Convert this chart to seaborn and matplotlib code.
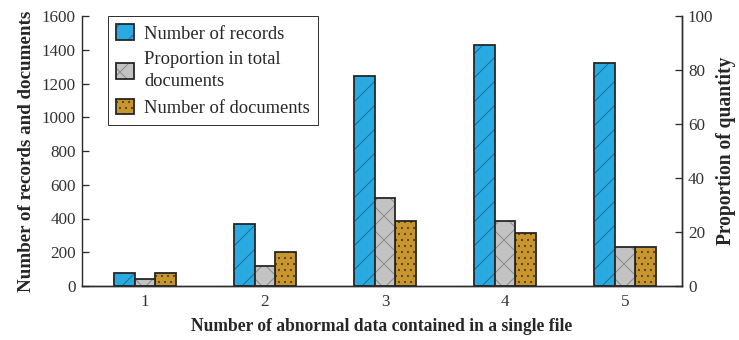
import matplotlib
matplotlib.use("Agg")
import matplotlib.pyplot as plt
import seaborn as sns
import pandas as pd
from matplotlib.patches import Patch, Rectangle
from matplotlib.legend_handler import HandlerTuple

# Categories and series values
groups = ["1", "2", "3", "4", "5"]
records = [80, 370, 1245, 1430, 1320]
proportion = [2.6, 7.5, 32.5, 24.1, 14.3]
documents = [80, 200, 385, 315, 229]
series = ["Number of records", "Proportion in total\ndocuments", "Number of documents"]
left_ticks = [0, 200, 400, 600, 800, 1000, 1200, 1400, 1600]
right_ticks = [0, 20, 40, 60, 80, 100]

sns.set_style("ticks")
plt.rcParams["font.family"] = ["Liberation Serif", "DejaVu Serif"]
plt.rcParams["hatch.linewidth"] = 1.0

fills = {series[0]: "#29ABE2", series[1]: "#C3C3C3", series[2]: "#C8962E"}
hatch_cols = {series[0]: "#1B6E9C", series[1]: "#8C8C8C", series[2]: "#5E4413"}
hatches = {series[0]: "/", series[1]: "x", series[2]: ".."}
outline = "#262626"

DPI = 72
fig = plt.figure(figsize=(739 / DPI, 340 / DPI), dpi=DPI)
ax = fig.add_axes([82 / 739, 1 - 286 / 340, 600 / 739, 270 / 340])
ax2 = ax.twinx()

left_df = pd.DataFrame({
    "group": groups * 2,
    "series": [series[0]] * len(groups) + [series[2]] * len(groups),
    "value": records + documents,
})
right_df = pd.DataFrame({
    "group": groups,
    "series": [series[1]] * len(groups),
    "value": proportion,
})

bar_kw = dict(x="group", y="value", hue="series", hue_order=series, palette=fills,
              width=0.51, saturation=1, legend=False, errorbar=None, dodge=True)
sns.barplot(data=left_df, ax=ax, **bar_kw)
sns.barplot(data=right_df, ax=ax2, **bar_kw)

# Hatch each bar and add a dark outline on top
def style_bars(axis):
    for p in list(axis.patches):
        fc = matplotlib.colors.to_hex(p.get_facecolor())
        name = [k for k, v in fills.items() if v.lower() == fc.lower()]
        if not name:
            continue
        name = name[0]
        p.set_hatch(hatches[name])
        p.set_edgecolor(hatch_cols[name])
        p.set_linewidth(0)
        axis.add_patch(Rectangle(p.get_xy(), p.get_width(), p.get_height(),
                                 fill=False, edgecolor=outline, linewidth=1.8, zorder=3))

style_bars(ax)
style_bars(ax2)

ax.set_xlim(-0.525, 4.475)
ax.set_ylim(0, 1600)
ax2.set_ylim(0, 100)
ax.set_yticks(left_ticks)
ax2.set_yticks(right_ticks)

for a in (ax, ax2):
    a.spines["top"].set_visible(False)
    for s in ("left", "right", "bottom"):
        a.spines[s].set_linewidth(1.4)
        a.spines[s].set_color("#2b2b2b")
    a.tick_params(axis="y", direction="in", length=7, width=1.3, color="#2b2b2b",
                  labelsize=17, labelcolor="#333333", pad=6)
    a.tick_params(axis="x", length=0, labelsize=17, labelcolor="#333333", pad=8)
ax2.spines["left"].set_visible(False)

ax.set_xlabel("Number of abnormal data contained in a single file", fontsize=17.5,
              fontweight="bold", color="#262626", labelpad=8)
ax.set_ylabel("Number of records and documents", fontsize=19, fontweight="bold",
              color="#262626", labelpad=7)
ax2.set_ylabel("Proportion of quantity", fontsize=19.5, fontweight="bold",
               color="#262626", labelpad=3)

handles = []
for name in series:
    h1 = Patch(facecolor=fills[name], edgecolor=hatch_cols[name], hatch=hatches[name], linewidth=0)
    h2 = Patch(fill=False, edgecolor=outline, linewidth=1.8)
    handles.append((h1, h2))
leg = ax2.legend(handles, series, handler_map={tuple: HandlerTuple(ndivide=1)},
                 loc="upper left", bbox_to_anchor=(26 / 600, 1.0), fontsize=18.5,
                 frameon=True, fancybox=False, edgecolor="#333333", framealpha=1,
                 handlelength=0.95, handleheight=0.95, handletextpad=0.55,
                 labelspacing=0.45, borderpad=0.45, borderaxespad=0)
leg.get_frame().set_linewidth(1.0)
for t in leg.get_texts():
    t.set_color("#262626")
    t.set_linespacing(1.4)

fig.savefig("out.png", dpi=DPI)
